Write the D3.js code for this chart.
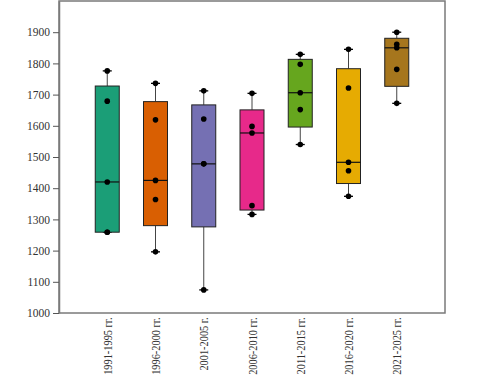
<!DOCTYPE html>
<html>
<head>
<meta charset="utf-8">
<script src="https://cdn.jsdelivr.net/npm/d3@7"></script>
<style>
body{margin:0;background:#fff}
svg text{font-family:"Liberation Serif","Times New Roman",serif !important}
</style>
</head>
<body>
<div id="container"></div>
<script>
const width = 490
const height = 375
const margin = {left:59,top:1,right:45,bottom:62}
const g_width = width - margin.left - margin.right
const g_height = height - margin.top - margin.bottom

// периоды и значения
const periods = ["1991-1995 гг.","1996-2000 гг.","2001-2005 г.","2006-2010 гг.","2011-2015 гг.","2016-2020 гг.","2021-2025 гг."]
const v1991 = [1776,1679,1420,1259,1259]
const v1996 = [1736,1619,1425,1364,1196]
const v2001 = [1712,1622,1478,1478,1074]
const v2006 = [1704,1598,1577,1344,1316]
const v2011 = [1829,1797,1706,1652,1540]
const v2016 = [1845,1721,1483,1456,1374]
const v2021 = [1900,1861,1850,1781,1672]
const series = [v1991,v1996,v2001,v2006,v2011,v2016,v2021]
const y_ticks = [1000,1100,1200,1300,1400,1500,1600,1700,1800,1900]
const colors = d3.schemeDark2

// квартиль (exclusive, как в Excel)
function quart(arr,p){
  const s = arr.slice().sort(d3.ascending)
  const pos = (s.length+1)*p
  const lo = Math.floor(pos)
  if(lo<1) return s[0]
  if(lo>=s.length) return s[s.length-1]
  return s[lo-1] + (pos-lo)*(s[lo]-s[lo-1])
}

const stats = series.map((d,i)=>({
  name:periods[i],
  i:i,
  min:d3.min(d),max:d3.max(d),
  q1:quart(d,0.25),med:d3.median(d),q3:quart(d,0.75),
  vals:d
}))

const svg = d3.select("#container")
.append("svg")
.attr('width',width)
.attr("height",height)

const g = svg.append('g')
.attr('transform',`translate(${margin.left},${margin.top})`)

const scale_x = d3.scaleLinear()
      .domain([0,periods.length+1])
      .range([0,g_width])

const scale_y = d3.scaleLinear()
      .domain([1000,2000])
      .range([g_height,0])

const bw = 24

// рамка
g.append('rect')
.attr('width',g_width)
.attr('height',g_height)
.attr('fill','none')
.attr('stroke','#7a7a7a')
.attr('stroke-width',1.5)

const box = g.selectAll('.box').data(stats).enter().append('g')
.attr('transform',d=>`translate(${scale_x(d.i+1)},0)`)

// усы
box.append('line')
.attr('y1',d=>scale_y(d.max)).attr('y2',d=>scale_y(d.q3))
.attr('stroke','#444').attr('stroke-width',1)
box.append('line')
.attr('y1',d=>scale_y(d.min)).attr('y2',d=>scale_y(d.q1))
.attr('stroke','#444').attr('stroke-width',1)
box.append('line')
.attr('x1',-4.5).attr('x2',4.5)
.attr('y1',d=>scale_y(d.max)).attr('y2',d=>scale_y(d.max))
.attr('stroke','#000').attr('stroke-width',1.3)
box.append('line')
.attr('x1',-4.5).attr('x2',4.5)
.attr('y1',d=>scale_y(d.min)).attr('y2',d=>scale_y(d.min))
.attr('stroke','#000').attr('stroke-width',1.3)

box.append('rect')
.attr('x',-bw/2)
.attr('width',bw)
.attr('y',d=>scale_y(d.q3))
.attr('height',d=>scale_y(d.q1)-scale_y(d.q3))
.attr('fill',d=>colors[d.i])
.attr('stroke','#222')
.attr('stroke-width',1)

box.append('line')
.attr('x1',-bw/2).attr('x2',bw/2)
.attr('y1',d=>scale_y(d.med)).attr('y2',d=>scale_y(d.med))
.attr('stroke','#111').attr('stroke-width',1.2)

box.selectAll('circle').data(d=>d.vals).enter().append('circle')
.attr('r',2.8)
.attr('cy',v=>scale_y(v))
.attr('fill','#000')

const y_axis = d3.axisLeft(scale_y).tickValues(y_ticks).tickFormat(d3.format("d")).tickSize(6).tickSizeOuter(0)
const ya = g.append('g').call(y_axis)
ya.select('.domain').attr('stroke','#7a7a7a').attr('stroke-width',1.5)
ya.selectAll('.tick line').attr('stroke','#555')
ya.selectAll('.tick text').attr('font-size',11.5).attr('fill','#333')

const x_axis = d3.axisBottom(scale_x)
  .tickValues(periods.map((d,i)=>i+1))
  .tickFormat(i=>periods[i-1])
  .tickSize(0)
const xa = g.append('g').call(x_axis)
.attr('transform',`translate(0,${g_height})`)
xa.select('.domain').remove()
xa.selectAll('.tick text')
.attr('font-size',11.5).attr('fill','#333')
.attr('transform','rotate(-90) scale(0.9,1)')
.attr('text-anchor','end')
.attr('x',-5).attr('y',0).attr('dy','0.35em')
</script>
</body>
</html>
